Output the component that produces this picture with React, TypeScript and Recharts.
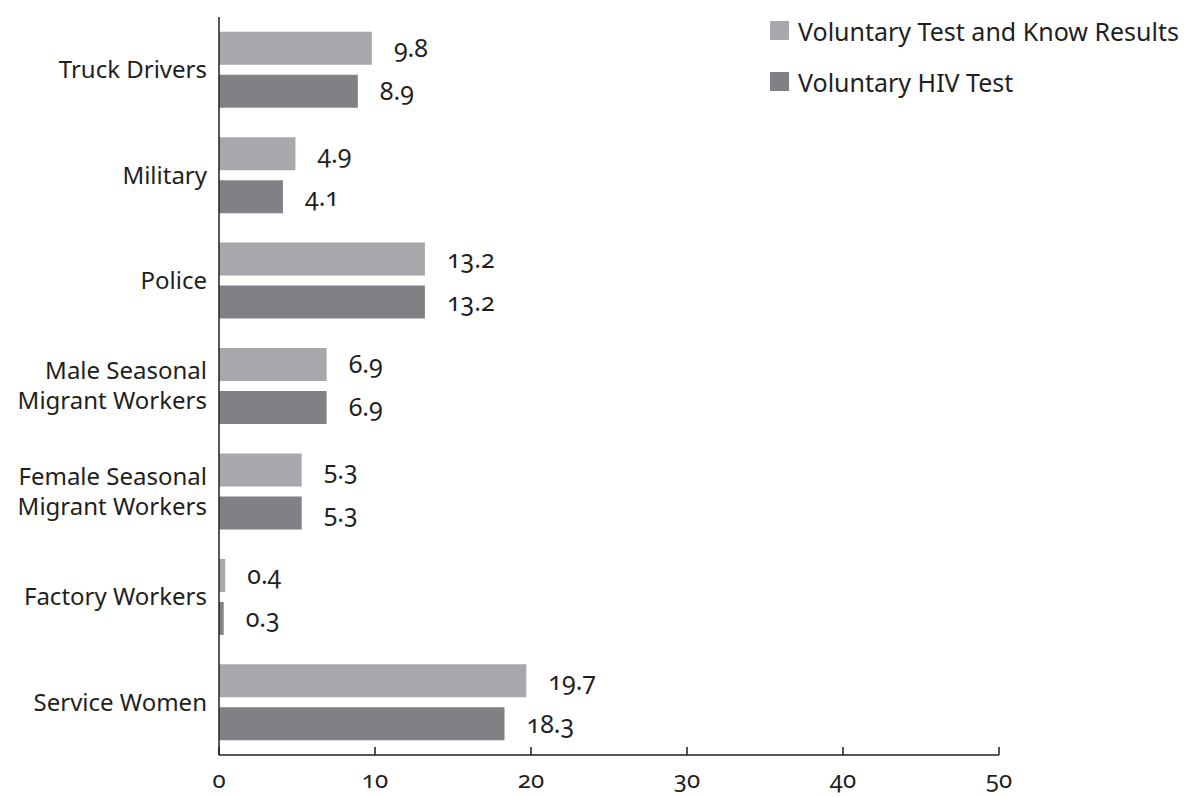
import { Bar, BarChart, LabelList, Legend, XAxis, YAxis } from "recharts";

const groups = [
  "Truck Drivers",
  "Military",
  "Police",
  "Male Seasonal\nMigrant Workers",
  "Female Seasonal\nMigrant Workers",
  "Factory Workers",
  "Service Women",
];
const knowResults = [9.8, 4.9, 13.2, 6.9, 5.3, 0.4, 19.7];
const hivTest = [8.9, 4.1, 13.2, 6.9, 5.3, 0.3, 18.3];
const xTicks = [0, 10, 20, 30, 40, 50];
const seriesOrder = ["know", "test"];

const data = groups.map((name, i) => ({
  name,
  know: knowResults[i],
  test: hivTest[i],
}));

const FONT = "'Noto Sans', 'Open Sans', sans-serif";
const INK = "#231f20";

function GroupTick(props: any) {
  const { x, y, payload } = props;
  const lines = String(payload.value).split("\n");
  const start = -((lines.length - 1) * 30) / 2;
  return (
    <text x={x} y={y} textAnchor="end" fontSize={24} fill={INK} fontFamily={FONT}>
      {lines.map((line, i) => (
        <tspan key={i} x={x} y={y + start + i * 30} dy="0.35em">
          {line}
        </tspan>
      ))}
    </text>
  );
}

function LegendBox(props: any) {
  const items = [...(props.payload || [])].sort(
    (a: any, b: any) => seriesOrder.indexOf(a.dataKey) - seriesOrder.indexOf(b.dataKey)
  );
  return (
    <div style={{ fontFamily: FONT, fontSize: 25, color: INK }}>
      {items.map((it: any) => (
        <div key={it.value} style={{ display: "flex", alignItems: "center", height: 51 }}>
          <span
            style={{ width: 19, height: 19, background: it.color, marginRight: 9, display: "inline-block" }}
          />
          {it.value}
        </div>
      ))}
    </div>
  );
}

const numStyle = { fontSize: 25, fill: INK, fontFamily: FONT, fontVariantNumeric: "oldstyle-nums" };

export default function App() {
  return (
    <div style={{ position: "absolute", left: 0, top: 0, background: "#fff" }}>
      <BarChart
        width={1191}
        height={797}
        data={data}
        layout="vertical"
        margin={{ top: 17, right: 192, bottom: 12, left: 0 }}
        barCategoryGap="14%"
        barGap={10}
      >
        <XAxis
          type="number"
          domain={[0, 50]}
          ticks={xTicks}
          axisLine={{ stroke: INK, strokeWidth: 1.5 }}
          tickLine={{ stroke: INK, strokeWidth: 1.5 }}
          tickSize={-8}
          tickMargin={24}
          tick={{ fontSize: 24, fill: INK, fontFamily: FONT, style: { fontVariantNumeric: "oldstyle-nums" } }}
        />
        <YAxis
          type="category"
          dataKey="name"
          width={219}
          axisLine={{ stroke: INK, strokeWidth: 1.5 }}
          tickLine={false}
          tickMargin={6}
          tick={<GroupTick />}
          interval={0}
        />
        <Legend
          layout="horizontal"
          verticalAlign="middle"
          align="center"
          wrapperStyle={{ top: 5, left: 770, width: 430 }}
          content={<LegendBox />}
        />
        <Bar dataKey="know" name="Voluntary Test and Know Results" fill="#a7a8ab" isAnimationActive={false}>
          <LabelList dataKey="know" position="right" offset={22} style={numStyle} />
        </Bar>
        <Bar dataKey="test" name="Voluntary HIV Test" fill="#808184" isAnimationActive={false}>
          <LabelList dataKey="test" position="right" offset={22} style={numStyle} />
        </Bar>
      </BarChart>
    </div>
  );
}
